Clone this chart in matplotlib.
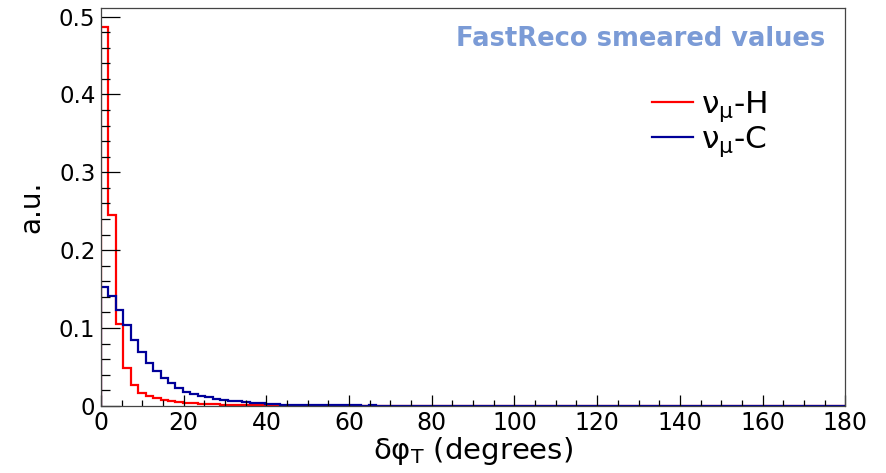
import numpy as np
import matplotlib
matplotlib.use('Agg')
import matplotlib.pyplot as plt
from matplotlib.lines import Line2D
from matplotlib.ticker import MultipleLocator

# 100 bins, 0 - 180 degrees
bin_edges = np.linspace(0, 180, 101)

nu_h = [0.487, 0.2457, 0.1045, 0.049, 0.027, 0.016, 0.013, 0.010, 0.0078, 0.006,
        0.0048, 0.004, 0.0033, 0.0027, 0.0022, 0.0018, 0.0014, 0.0011, 0.0009, 0.0007,
        0.0006, 0.0005, 0.0004, 0.0003, 0.0002]
nu_c = [0.153, 0.1414, 0.123, 0.104, 0.0846, 0.0696, 0.0547, 0.0453, 0.0355, 0.029,
        0.0235, 0.0183, 0.015, 0.0128, 0.011, 0.0093, 0.008, 0.0068, 0.0056, 0.0047,
        0.004, 0.0032, 0.0026, 0.0021, 0.0016, 0.0014, 0.0012, 0.001, 0.0009, 0.0008,
        0.0007, 0.0006, 0.0006, 0.0005, 0.0005, 0.0001, 0.0005, 0.0004, 0.0004]

h_vals = np.zeros(100)
h_vals[:len(nu_h)] = nu_h
c_vals = np.zeros(100)
c_vals[:len(nu_c)] = nu_c

red = '#ff0000'
blue = '#000099'

fig = plt.figure(figsize=(8.86, 4.73), dpi=100)
ax = fig.add_axes([0.114, 0.142, 0.84, 0.841])

ax.stairs(h_vals, bin_edges, color=red, linewidth=1.6)
ax.stairs(c_vals, bin_edges, color=blue, linewidth=1.6)

ax.set_xlim(0, 180)
ax.set_ylim(0, 0.511)
ax.xaxis.set_major_locator(MultipleLocator(20))
ax.xaxis.set_minor_locator(MultipleLocator(5))
ax.yaxis.set_major_locator(MultipleLocator(0.1))
ax.yaxis.set_minor_locator(MultipleLocator(0.02))
ax.set_yticks([0, 0.1, 0.2, 0.3, 0.4, 0.5])
ax.set_yticklabels(['0', '0.1', '0.2', '0.3', '0.4', '0.5'])

ax.tick_params(axis='x', which='major', direction='in', length=8, width=0.9, labelsize=17, pad=4)
ax.tick_params(axis='x', which='minor', direction='in', length=4.3, width=0.9)
ax.tick_params(axis='y', which='major', direction='in', length=14, width=0.9, labelsize=16.5, pad=4)
ax.tick_params(axis='y', which='minor', direction='in', length=6.5, width=0.9)
for s in ax.spines.values():
    s.set_color('#444444')
    s.set_linewidth(0.9)

ax.set_xlabel('δφ$_{\\mathregular{T}}$ (degrees)', fontsize=21, labelpad=0)
ax.set_ylabel('a.u.', fontsize=20, labelpad=10)

fig.text(0.931, 0.918, 'FastReco smeared values', color='#7b9bd6', fontsize=18.5,
         fontweight='bold', ha='right', va='center')

handles = [Line2D([0], [0], color=red, lw=1.6), Line2D([0], [0], color=blue, lw=1.6)]
labels = ['ν$_{\\mathregular{μ}}$-H', 'ν$_{\\mathregular{μ}}$-C']
ax.legend(handles, labels, loc='upper left', bbox_to_anchor=(0.736, 0.812),
          bbox_transform=fig.transFigure, frameon=False, fontsize=22.5,
          handlelength=1.3, handletextpad=0.28, borderpad=0, borderaxespad=0,
          labelspacing=0.0)

fig.savefig('out.png', dpi=100)
